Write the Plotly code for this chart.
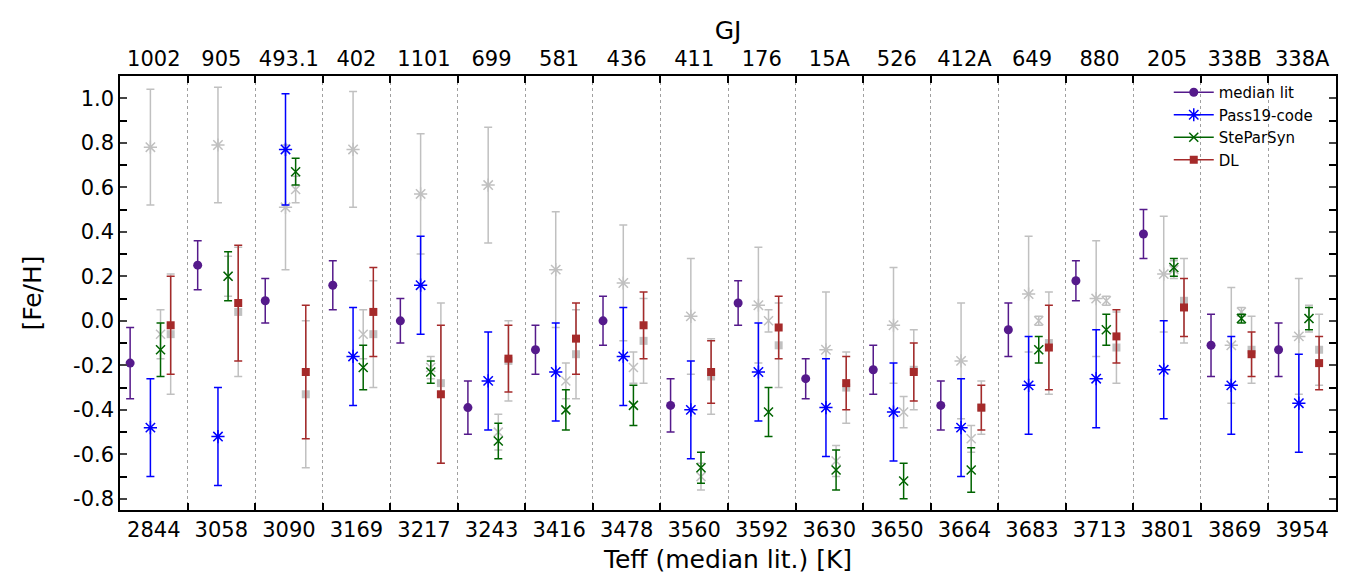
import plotly.graph_objects as go

# stars, ordered by median literature Teff
gj = ["1002", "905", "493.1", "402", "1101", "699", "581", "436", "411",
      "176", "15A", "526", "412A", "649", "880", "205", "338B", "338A"]
teff = ["2844", "3058", "3090", "3169", "3217", "3243", "3416", "3478", "3560",
        "3592", "3630", "3650", "3664", "3683", "3713", "3801", "3869", "3954"]

med = [-0.19, 0.25, 0.09, 0.16, 0.00, -0.39, -0.13, 0.00, -0.38,
       0.08, -0.26, -0.22, -0.38, -0.04, 0.18, 0.39, -0.11, -0.13]
med_err = [0.16, 0.11, 0.10, 0.11, 0.10, 0.12, 0.11, 0.11, 0.12,
           0.10, 0.09, 0.11, 0.11, 0.12, 0.09, 0.11, 0.14, 0.12]

p19 = [-0.48, -0.52, 0.77, -0.16, 0.16, -0.27, -0.23, -0.16, -0.40,
       -0.23, -0.39, -0.41, -0.48, -0.29, -0.26, -0.22, -0.29, -0.37]
p19_err = [0.22, 0.22, 0.25, 0.22, 0.22, 0.22, 0.22, 0.22, 0.22,
           0.22, 0.22, 0.22, 0.22, 0.22, 0.22, 0.22, 0.22, 0.22]
p19_grey = [0.78, 0.79, 0.51, 0.77, 0.57, 0.61, 0.23, 0.17, 0.02,
            0.07, -0.13, -0.02, -0.18, 0.12, 0.10, 0.21, -0.11, -0.07]
p19_grey_err = [0.26, 0.26, 0.28, 0.26, 0.27, 0.26, 0.26, 0.26, 0.26,
                0.26, 0.26, 0.26, 0.26, 0.26, 0.26, 0.26, 0.26, 0.26]

sps = [-0.13, 0.20, 0.67, -0.21, -0.23, -0.54, -0.40, -0.38, -0.66,
       -0.41, -0.67, -0.72, -0.67, -0.13, -0.04, 0.24, 0.01, 0.01]
sps_err = [0.12, 0.11, 0.06, 0.10, 0.05, 0.08, 0.09, 0.09, 0.07,
           0.11, 0.09, 0.08, 0.10, 0.06, 0.07, 0.04, 0.02, 0.05]
sps_grey = [-0.06, 0.20, 0.59, -0.06, -0.21, -0.50, -0.27, -0.21, -0.70,
            0.00, -0.63, -0.41, -0.53, 0.00, 0.09, 0.23, 0.04, 0.01]
sps_grey_err = [0.11, 0.09, 0.06, 0.11, 0.05, 0.08, 0.08, 0.07, 0.06,
                0.05, 0.07, 0.07, 0.06, 0.02, 0.02, 0.04, 0.02, 0.06]

dl = [-0.02, 0.08, -0.23, 0.04, -0.33, -0.17, -0.08, -0.02, -0.23,
      -0.03, -0.28, -0.23, -0.39, -0.12, -0.07, 0.06, -0.15, -0.19]
dl_err = [0.22, 0.26, 0.30, 0.20, 0.31, 0.15, 0.16, 0.15, 0.14,
          0.14, 0.12, 0.13, 0.10, 0.19, 0.12, 0.13, 0.10, 0.12]
dl_grey = [-0.06, 0.04, -0.33, -0.06, -0.28, -0.18, -0.15, -0.09, -0.25,
           -0.11, -0.30, -0.22, -0.39, -0.10, -0.12, 0.09, -0.13, -0.13]
dl_grey_err = [0.27, 0.29, 0.33, 0.24, 0.36, 0.18, 0.20, 0.19, 0.17,
               0.19, 0.16, 0.18, 0.12, 0.23, 0.16, 0.19, 0.15, 0.16]

ytick_vals = [-0.8, -0.6, -0.4, -0.2, 0.0, 0.2, 0.4, 0.6, 0.8, 1.0]
ytick_text = ["-0.8", "-0.6", "-0.4", "-0.2", "0.0", "0.2", "0.4", "0.6", "0.8", "1.0"]

n = len(gj)
idx = list(range(n))
FONT = "DejaVu Sans"
GREY = "#c0c0c0"


def xs(off):
    return [i + off for i in idx]


def add_series(y, err, off, color, symbol, size, name=None, lw=1.5):
    fig.add_trace(go.Scatter(
        x=xs(off), y=y, mode="markers", showlegend=False,
        marker=dict(symbol=symbol, size=size, color=color,
                    line=dict(color=color, width=lw)),
        error_y=dict(type="data", array=err, color=color, thickness=1.5, width=4),
    ))
    if name:
        fig.add_trace(go.Scatter(
            x=[None], y=[None], mode="lines+markers", name=name,
            line=dict(color=color, width=1.5),
            marker=dict(symbol=symbol, size=size, color=color,
                        line=dict(color=color, width=lw)),
        ))


fig = go.Figure()

# grey comparison values first
add_series(p19_grey, p19_grey_err, -0.05, GREY, "asterisk-open", 11)
add_series(sps_grey, sps_grey_err, 0.10, GREY, "x-thin-open", 9)
add_series(dl_grey, dl_grey_err, 0.25, GREY, "square", 8, lw=0)

add_series(med, med_err, -0.35, "#551a8b", "circle", 9, "median lit", lw=0)
add_series(p19, p19_err, -0.05, "#0000ff", "asterisk-open", 11, "Pass19-code")
add_series(sps, sps_err, 0.10, "#006400", "x-thin-open", 9, "SteParSyn")
add_series(dl, dl_err, 0.25, "#a52a2a", "square", 8, "DL", lw=0)

# dummy trace so the top axis is drawn
fig.add_trace(go.Scatter(x=[None], y=[None], xaxis="x2", showlegend=False))

bounds = [i + 0.5 for i in idx[:-1]]
minor_x = dict(tickmode="array", tickvals=bounds, ticks="inside", ticklen=7,
               tickwidth=1.5, tickcolor="black", showgrid=True,
               gridcolor="#a0a0a0", griddash="dot", gridwidth=1)

# page body adds 8px, margins compensate
fig.update_layout(
    width=1360, height=580,
    margin=dict(l=112, r=32, t=68, b=78),
    plot_bgcolor="white", paper_bgcolor="white",
    font=dict(family=FONT, size=21, color="black"),
    xaxis=dict(range=[-0.5, n - 0.5], tickmode="array", tickvals=idx, ticktext=teff,
               ticks="", showgrid=False, zeroline=False, showline=True,
               linecolor="black", linewidth=1.5, minor=minor_x, automargin=False,
               title=dict(text="Teff (median lit.) [K]", standoff=10)),
    xaxis2=dict(range=[-0.5, n - 0.5], overlaying="x", side="top", anchor="y",
                tickmode="array", tickvals=idx, ticktext=gj, ticks="",
                showgrid=False, zeroline=False, showline=True,
                linecolor="black", linewidth=1.5, automargin=False,
                minor=dict(minor_x, showgrid=False),
                title=dict(text="GJ", standoff=0)),
    yaxis=dict(range=[-0.85, 1.1], tickmode="array", tickvals=ytick_vals,
               ticktext=ytick_text, ticks="inside", ticklen=7, tickwidth=1.5,
               showgrid=False, zeroline=False, showline=True, mirror="allticks",
               linecolor="black", linewidth=1.5, automargin=False,
               minor=dict(dtick=0.1, tick0=0, ticks="inside", ticklen=4,
                          tickwidth=1.5, tickcolor="black", showgrid=False),
               title=dict(text="[Fe/H]", standoff=24)),
    legend=dict(x=0.985, y=1.0, xanchor="right", yanchor="top",
                bgcolor="rgba(0,0,0,0)", font=dict(size=15),
                tracegroupgap=0, itemwidth=40),
)

fig.write_html("out.html")
